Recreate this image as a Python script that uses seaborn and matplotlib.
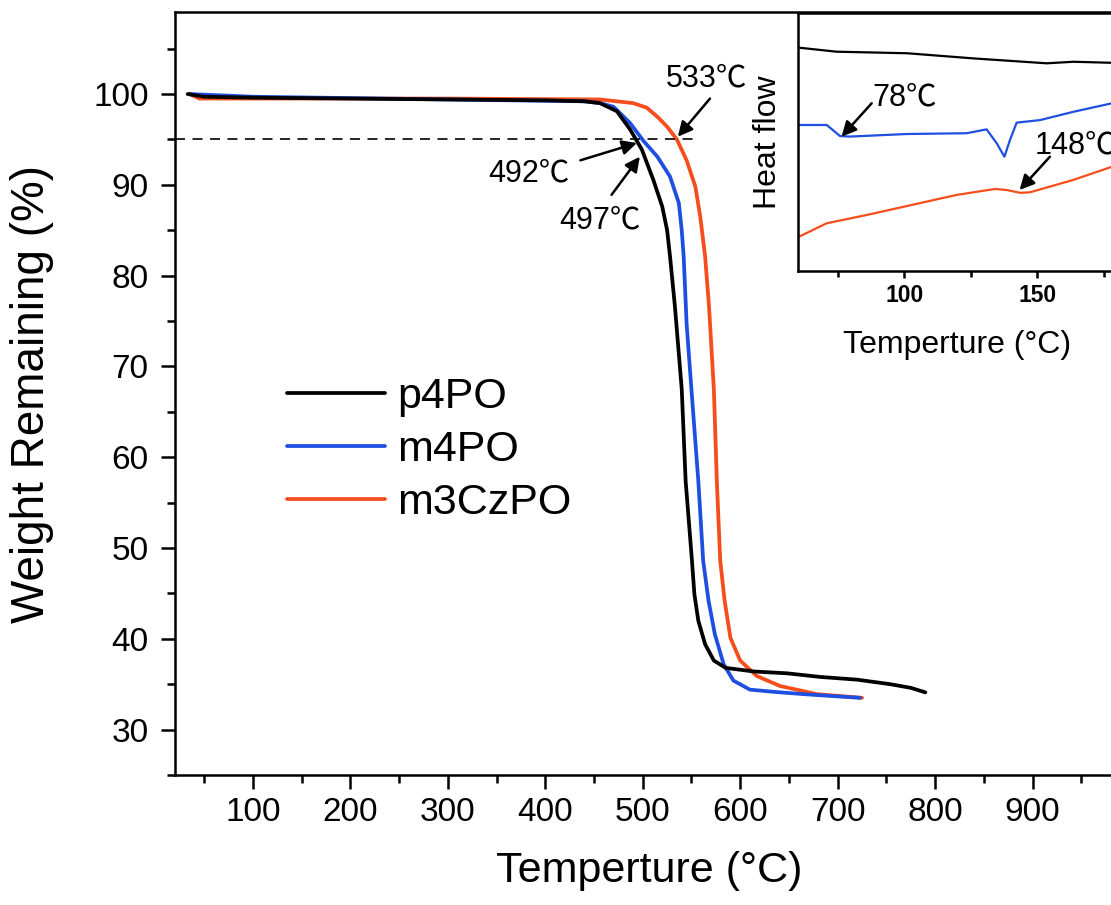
import numpy as np
import pandas as pd
import seaborn as sns
from matplotlib import pyplot as plt
from matplotlib.ticker import MultipleLocator

# TGA curves (temperature in C, weight remaining in %)
p4po_T = [33, 50, 100, 200, 300, 400, 440, 456, 473.5, 487, 499, 511, 520, 525, 528, 533, 540,
          544, 550.5, 553, 557, 564, 573, 585, 614, 648, 682, 720, 754, 775, 790]
p4po_W = [100.0, 99.7, 99.6, 99.5, 99.4, 99.3, 99.2, 99.0, 98.1, 96.1, 93.9, 90.5, 87.6, 85.0,
          82.1, 76.6, 67.5, 57.4, 48.6, 44.9, 42.0, 39.4, 37.6, 36.8, 36.4, 36.2, 35.8, 35.5,
          35.0, 34.6, 34.1]

m4po_T = [35, 100, 300, 440, 456, 470, 487, 501, 515, 528, 537, 540, 542, 545, 550, 557,
          562, 567.5, 574, 583, 593, 610, 641, 679, 723]
m4po_W = [100.0, 99.7, 99.4, 99.2, 99.0, 98.6, 96.8, 94.8, 93.1, 90.9, 88.0, 85.0, 82.1, 74.7,
          67.4, 57.4, 48.6, 44.2, 40.5, 37.2, 35.4, 34.4, 34.1, 33.8, 33.5]

m3czpo_T = [35, 45, 100, 300, 456, 490, 504, 515, 525, 535, 545, 554, 559, 564, 568, 573,
            576, 579.5, 584, 590, 600, 617, 641, 679, 725]
m3czpo_W = [100.0, 99.5, 99.5, 99.5, 99.4, 99.0, 98.5, 97.5, 96.4, 95.0, 92.7, 89.8, 86.5, 82.1,
            76.6, 67.4, 57.4, 48.6, 44.2, 40.1, 37.6, 35.9, 34.8, 33.9, 33.5]

# DSC inset (temperature in C, heat flow in arbitrary units)
dsc_p4po_T = [60, 74.5, 101, 126, 153.5, 163.5, 178]
dsc_p4po_H = [8.66, 8.50, 8.44, 8.24, 8.05, 8.11, 8.07]
dsc_m4po_T = [60, 70.8, 75.8, 79.5, 101, 123.4, 130.9, 134.7, 137.6, 139.7, 142.2, 151, 163.5, 178]
dsc_m4po_H = [5.66, 5.66, 5.23, 5.21, 5.31, 5.34, 5.49, 4.95, 4.43, 5.08, 5.75, 5.85, 6.17, 6.50]
dsc_m3czpo_T = [60, 70.8, 85.8, 101, 119.7, 134.1, 138.5, 143.5, 147.2, 163.5, 178]
dsc_m3czpo_H = [1.31, 1.85, 2.17, 2.52, 2.95, 3.18, 3.14, 3.03, 3.05, 3.53, 4.04]

names = ['p4PO', 'm4PO', 'm3CzPO']
colors = {'p4PO': '#000000', 'm4PO': '#1F4FE0', 'm3CzPO': '#F54D1B'}

sns.set_style('ticks')
plt.rcParams['font.family'] = ['Liberation Sans', 'Noto Sans CJK SC', 'DejaVu Sans']
plt.rcParams.update({'text.color': 'black', 'axes.labelcolor': 'black',
                     'xtick.color': 'black', 'ytick.color': 'black',
                     'axes.edgecolor': 'black'})
ann_font = ['Liberation Sans', 'Noto Sans CJK SC']

fig = plt.figure(figsize=(11.11, 9.05), dpi=100)
ax = fig.add_axes([175 / 1111, 130 / 905, 955 / 1111, 762.7 / 905])

tga = {'p4PO': (p4po_T, p4po_W), 'm4PO': (m4po_T, m4po_W), 'm3CzPO': (m3czpo_T, m3czpo_W)}
for name in ['m3CzPO', 'm4PO', 'p4PO']:
    df = pd.DataFrame({'T': tga[name][0], 'W': tga[name][1]})
    sns.lineplot(data=df, x='T', y='W', ax=ax, color=colors[name], lw=2.7, label=name)

ax.axhline(95, xmin=0, xmax=(552 - 20) / 980, color='k', lw=1.2, dashes=(6, 4.5))

ax.set_xlim(20, 1000)
ax.set_ylim(25, 109)
ax.set_xticks(np.arange(100, 901, 100))
ax.xaxis.set_minor_locator(MultipleLocator(50))
ax.set_yticks(np.arange(30, 101, 10))
ax.yaxis.set_minor_locator(MultipleLocator(5))
ax.tick_params(which='major', direction='out', length=10, width=1.8, labelsize=24)
ax.tick_params(axis='y', which='major', pad=9)
ax.tick_params(axis='x', which='major', pad=6)
ax.tick_params(which='minor', direction='out', length=5.5, width=1.8)
for s in ax.spines.values():
    s.set_linewidth(1.8)

ax.set_xlabel('Temperture (°C)', fontsize=31)
ax.set_ylabel('Weight Remaining (%)', fontsize=33)
ax.xaxis.set_label_coords(0.497, -0.099)
ax.yaxis.set_label_coords(-0.127, 0.5)

handles, labels = ax.get_legend_handles_labels()
order = [labels.index(n) for n in names]
ax.legend([handles[i] for i in order], names, loc='center left',
          bbox_to_anchor=(0.117, 0.426), frameon=False, fontsize=31,
          borderpad=0, borderaxespad=0, handlelength=2.28, handletextpad=0.28,
          labelspacing=0.30)

# onset annotations
arrow = dict(arrowstyle='-|>', color='k', lw=1.8, mutation_scale=22, shrinkA=0, shrinkB=0)
ax.annotate('', xy=(536, 95.3), xytext=(569, 99.5), arrowprops=arrow)
ax.annotate('', xy=(494, 94.6), xytext=(436, 92.7), arrowprops=arrow)
ax.annotate('', xy=(497, 93.1), xytext=(468, 88.9), arrowprops=arrow)
ax.text(565, 100.8, '533℃', fontsize=22, ha='center', va='baseline', family=ann_font)
ax.text(383, 90.35, '492℃', fontsize=22, ha='center', va='baseline', family=ann_font)
ax.text(456, 85.2, '497℃', fontsize=22, ha='center', va='baseline', family=ann_font)

# DSC inset
ax2 = fig.add_axes([798 / 1111, 634 / 905, 372.4 / 1111, 258 / 905])
dsc = {'p4PO': (dsc_p4po_T, dsc_p4po_H), 'm4PO': (dsc_m4po_T, dsc_m4po_H),
       'm3CzPO': (dsc_m3czpo_T, dsc_m3czpo_H)}
for name in names:
    sns.lineplot(x=dsc[name][0], y=dsc[name][1], ax=ax2, color=colors[name], lw=1.6)
ax2.set_xlim(60, 200)
ax2.set_ylim(0, 10)
ax2.set_yticks([])
ax2.set_xticks([100, 150])
ax2.xaxis.set_minor_locator(MultipleLocator(25))
ax2.tick_params(which='major', direction='out', length=5, width=1.8, labelsize=16.5, pad=4)
ax2.tick_params(which='minor', direction='out', length=4, width=1.8)
for lab in ax2.get_xticklabels():
    lab.set_fontweight('bold')
for s in ax2.spines.values():
    s.set_linewidth(1.8)
ax2.set_xlabel('Temperture (°C)', fontsize=23)
ax2.set_ylabel('Heat flow', fontsize=23)
ax2.xaxis.set_label_coords(0.427, -0.229)
ax2.yaxis.set_label_coords(-0.040, 0.5)

ax2.annotate('', xy=(76.4, 5.21), xytext=(87.7, 6.5), arrowprops=arrow)
ax2.annotate('', xy=(143.3, 3.14), xytext=(154.7, 4.43), arrowprops=arrow)
ax2.text(100.2, 6.43, '78℃', fontsize=22, ha='center', va='baseline', family=ann_font)
ax2.text(149.1, 4.56, '148℃', fontsize=22, ha='left', va='baseline', family=ann_font)

fig.savefig('out.png', dpi=100)
